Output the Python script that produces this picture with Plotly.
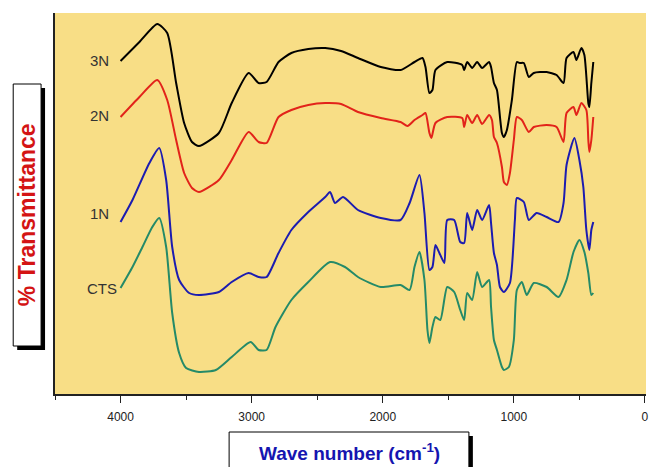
import plotly.graph_objects as go

# ---------------- data (wavenumber cm-1, transmittance arbitrary units, offset) ----------------
wn_3N = [4000, 3856, 3720, 3644, 3576, 3515, 3455, 3402, 3250, 3152, 3023, 2947, 2886, 2795, 2697, 2568,
         2439, 2318, 2189, 2015, 1864, 1758, 1697, 1674, 1644, 1621, 1598, 1508, 1394, 1379, 1356, 1318,
         1280, 1242, 1189, 1174, 1152, 1129, 1091, 1076, 1053, 1015, 977, 955, 924, 886, 848, 750, 674,
         621, 598, 545, 523, 485, 462, 432, 424, 409, 394]
t_3N = [333, 352, 370, 361, 311, 271, 252, 248, 261, 291, 321, 311, 312, 332, 341, 345,
        346, 343, 336, 327, 324, 332, 336, 327, 301, 304, 324, 332, 329, 324, 332, 326,
        332, 326, 332, 327, 311, 304, 261, 257, 264, 294, 332, 331, 331, 317, 321, 322, 319,
        311, 336, 342, 334, 346, 339, 291, 287, 311, 332]

wn_2N = [4000, 3856, 3720, 3644, 3576, 3515, 3455, 3402, 3250, 3152, 3023, 2947, 2886, 2795, 2697, 2568,
         2439, 2318, 2189, 2015, 1864, 1811, 1758, 1697, 1674, 1644, 1629, 1598, 1508, 1394, 1379, 1356,
         1318, 1280, 1242, 1189, 1167, 1152, 1129, 1091, 1076, 1053, 1030, 1000, 977, 939, 886, 848, 750,
         674, 621, 598, 545, 523, 485, 447, 432, 424, 409, 394]
t_2N = [277, 297, 314, 294, 254, 221, 206, 202, 214, 234, 262, 252, 251, 277, 284, 289,
        291, 290, 282, 276, 272, 268, 274, 279, 281, 261, 256, 271, 277, 276, 267, 279,
        271, 279, 270, 279, 274, 257, 251, 227, 212, 209, 221, 254, 277, 274, 262, 267, 269,
        267, 252, 281, 287, 279, 291, 284, 254, 242, 254, 277]

wn_1N = [4000, 3909, 3780, 3705, 3652, 3606, 3553, 3477, 3402, 3250, 3152, 3023, 2947, 2886, 2795, 2697,
         2568, 2439, 2402, 2364, 2303, 2189, 2015, 1864, 1795, 1720, 1682, 1644, 1621, 1598, 1568, 1530,
         1508, 1455, 1409, 1379, 1356, 1318, 1280, 1242, 1189, 1174, 1152, 1129, 1106, 1076, 1030, 992,
         977, 924, 886, 826, 750, 659, 621, 598, 538, 500, 470, 447, 424, 409, 394]
t_1N = [172, 194, 231, 246, 214, 147, 114, 101, 99, 102, 112, 121, 117, 117, 141, 164,
        182, 197, 202, 191, 197, 184, 176, 174, 191, 219, 181, 124, 127, 149, 141, 131,
        174, 174, 152, 151, 181, 164, 184, 174, 189, 171, 141, 129, 107, 102, 111, 174,
        196, 192, 174, 181, 177, 172, 191, 229, 256, 234, 207, 164, 144, 164, 172]

wn_CTS = [4000, 3909, 3833, 3758, 3705, 3652, 3606, 3553, 3500, 3402, 3273, 3152, 3008, 2947, 2886, 2818,
          2697, 2568, 2402, 2288, 2189, 2015, 1864, 1795, 1758, 1720, 1682, 1659, 1644, 1621, 1598, 1561,
          1508, 1455, 1409, 1379, 1356, 1318, 1280, 1242, 1189, 1174, 1152, 1129, 1091, 1076, 1038, 1000,
          977, 939, 902, 848, 750, 659, 598, 545, 500, 462, 432, 409, 394]
t_CTS = [106, 127, 147, 167, 176, 147, 81, 41, 26, 22, 24, 37, 52, 44, 44, 67,
         94, 112, 132, 127, 117, 107, 109, 104, 127, 142, 114, 64, 51, 67, 77, 74,
         107, 102, 84, 74, 101, 94, 122, 107, 114, 87, 54, 44, 27, 24, 27, 54,
         104, 112, 99, 111, 107, 97, 114, 142, 154, 142, 121, 99, 101]

series_names = ["3N", "2N", "1N", "CTS"]
series_colors = ["#000000", "#E2231A", "#1C1CB0", "#258A68"]
label_pos = [(4070, 334), (4070, 279), (4070, 181), (4012, 106)]

x_tick_vals = [4000, 3000, 2000, 1000, 0]
x_tick_text = ["4000", "3000", "2000", "1000", "0"]

# ---------------- layout helpers ----------------
W, H = 651, 467
L, R, T, B = 55, 2, 13, 73


def px_x(px):
    return (px - L) / (W - L - R)


def px_y(py):
    return (H - B - py) / (H - T - B)


fig = go.Figure()
xs = [wn_3N, wn_2N, wn_1N, wn_CTS]
ys = [t_3N, t_2N, t_1N, t_CTS]
for name, x, y, c in zip(series_names, xs, ys, series_colors):
    fig.add_trace(go.Scatter(x=x, y=y, mode="lines", name=name,
                             line=dict(color=c, width=2, shape="spline", smoothing=0.6),
                             showlegend=False))

annotations = []
for name, (lx, ly) in zip(series_names, label_pos):
    annotations.append(dict(x=lx, y=ly, xref="x", yref="y", text=name, showarrow=False,
                            xanchor="right", yanchor="middle",
                            font=dict(family="Arial, Liberation Sans", size=15, color="#333333")))

# axis title boxes
shapes = [
    dict(type="rect", xref="paper", yref="paper", x0=px_x(17), x1=px_x(45), y0=px_y(350), y1=px_y(88),
         fillcolor="black", line=dict(width=0), layer="above"),
    dict(type="rect", xref="paper", yref="paper", x0=px_x(13), x1=px_x(41), y0=px_y(346), y1=px_y(84),
         fillcolor="white", line=dict(color="black", width=1), layer="above"),
    dict(type="rect", xref="paper", yref="paper", x0=px_x(234), x1=px_x(475), y0=px_y(475), y1=px_y(436),
         fillcolor="black", line=dict(width=0), layer="above"),
    dict(type="rect", xref="paper", yref="paper", x0=px_x(230), x1=px_x(471), y0=px_y(471), y1=px_y(432),
         fillcolor="white", line=dict(color="black", width=1), layer="above"),
]
annotations.append(dict(x=px_x(27), y=px_y(215), xref="paper", yref="paper", text="<b>% Transmittance</b>",
                        textangle=-90, showarrow=False, xanchor="center", yanchor="middle",
                        font=dict(family="Arial, Liberation Sans", size=23, color="#D41414")))
annotations.append(dict(x=px_x(351), y=px_y(452), xref="paper", yref="paper",
                        text="<b>Wave number (cm<sup>-1</sup>)</b>",
                        showarrow=False, xanchor="center", yanchor="middle",
                        font=dict(family="Arial, Liberation Sans", size=19, color="#1515B0")))

fig.update_layout(
    width=W, height=H,
    margin=dict(l=L, r=R, t=T, b=B, pad=0),
    paper_bgcolor="white",
    plot_bgcolor="#F8DE86",
    shapes=shapes,
    annotations=annotations,
    xaxis=dict(range=[4500, -8], tickvals=x_tick_vals, ticktext=x_tick_text,
               ticks="outside", ticklen=7, tickcolor="#222222", tickwidth=1,
               ticklabeloverflow="allow",
               minor=dict(ticks="outside", dtick=500, tick0=0, ticklen=4, tickcolor="#222222", showgrid=False),
               showline=True, linecolor="#222222", linewidth=1.5, showgrid=False, zeroline=False,
               ticklabelstandoff=4,
               tickfont=dict(family="Arial, Liberation Sans", size=12, color="#222222")),
    yaxis=dict(range=[0, 381], showticklabels=False, ticks="", showgrid=False, zeroline=False,
               showline=True, linecolor="#222222", linewidth=1.5),
)

fig.write_html("out.html")
